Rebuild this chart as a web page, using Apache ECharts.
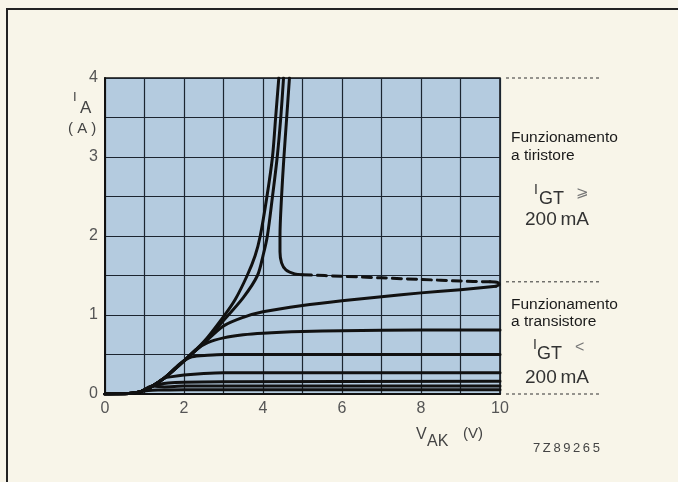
<!DOCTYPE html>
<html><head><meta charset="utf-8">
<script src="https://cdn.jsdelivr.net/npm/echarts@6/dist/echarts.min.js"></script>
<style>html,body{margin:0;padding:0;background:#f8f5e9}#c{width:678px;height:482px}</style>
</head><body><div id="c"></div>
<script>
// ---- data ----
const xTickLabels = [0, 2, 4, 6, 8, 10];
const yTickLabels = [0, 1, 2, 3, 4];
const bundle = [[0,0],[0.6,0.005],[0.9,0.03],[1.2,0.1],[1.5,0.2],[2,0.42]];
const thyristorA = [[2.5,0.66],[3,0.98],[3.3,1.2],[3.6,1.5],[3.8,1.75],[3.93,2],[4.1,2.5],[4.24,3],[4.32,3.5],[4.4,4]];
const thyristorB = [[2.5,0.65],[3,0.93],[3.5,1.22],[3.86,1.5],[4.0,1.75],[4.11,2],[4.24,2.5],[4.36,3],[4.45,3.5],[4.52,4]];
const thyristorC = [[4.67,4],[4.6,3.5],[4.53,3],[4.47,2.5],[4.43,2],[4.43,1.8],[4.47,1.66],[4.58,1.57],[4.8,1.52],[5.0,1.51]];
const snapDashed = [[5.0,1.51],[6,1.49],[7,1.47],[8,1.45],[9,1.43],[9.75,1.42]];
const snapEnd = [[9.75,1.42],[9.95,1.41],[9.98,1.385],[9.9,1.365]];
const plateau136 = [[2.5,0.64],[3,0.86],[3.5,0.97],[4,1.04],[5,1.12],[6,1.18],[7,1.23],[8,1.28],[9,1.32],[9.9,1.365]];
const plateau080 = [[2.3,0.56],[2.6,0.65],[3,0.71],[3.5,0.75],[4,0.77],[5,0.79],[6,0.8],[8,0.81],[10,0.81]];
const plateau050 = [[2.2,0.47],[2.6,0.49],[3,0.5],[6,0.5],[10,0.5]];
const plateau027 = [[1.7,0.22],[2,0.24],[2.5,0.26],[3,0.27],[6,0.27],[10,0.27]];
const plateau015 = [[1.6,0.14],[2,0.15],[3,0.155],[10,0.16]];
const plateau010 = [[1.5,0.09],[2,0.1],[3,0.1],[10,0.1]];
const plateau005 = [[1.4,0.05],[2,0.055],[10,0.055]];

function upTo(x){ return bundle.filter(p => p[0] <= x); }

const chart = echarts.init(document.getElementById('c'));
const FONT = 'Liberation Sans, Arial, sans-serif';
function curve(data, dashed){
  return {type:'line', data:data, showSymbol:false, smooth:0.3, silent:true,
    lineStyle:{color:'#111', width: 3, type: dashed?[9,6]:'solid', cap:'round', join:'round'}};
}
chart.setOption({
  animation:false,
  backgroundColor:'#f8f5e9',
  grid:{left:105, right:178, top:78, bottom:88, show:true, backgroundColor:'#b4cbdf', borderColor:'#111', borderWidth:1.5},
  xAxis:{type:'value', min:0, max:10, interval:1,
    axisLine:{show:true, lineStyle:{color:'#111', width:2}}, axisTick:{show:false},
    splitLine:{show:true, lineStyle:{color:'#1c2530', width:1.2}},
    axisLabel:{margin:7, color:'#555', fontSize:16, fontFamily:FONT,
      formatter:v => xTickLabels.includes(v) ? String(v) : ''}},
  yAxis:{type:'value', min:0, max:4, interval:0.5,
    axisLine:{show:true, lineStyle:{color:'#111', width:2}}, axisTick:{show:false},
    splitLine:{show:true, lineStyle:{color:'#1c2530', width:1.2}},
    axisLabel:{margin:7, color:'#555', fontSize:16, fontFamily:FONT,
      formatter:v => yTickLabels.includes(v) ? String(v) : ''}},
  series:[
    curve(upTo(2).concat(thyristorA)),
    curve(upTo(2).concat(thyristorB)),
    curve(thyristorC),
    curve(snapDashed, true),
    curve(snapEnd),
    curve(upTo(2).concat(plateau136)),
    curve(upTo(2).concat(plateau080)),
    curve(upTo(1.5).concat([[1.8,0.34],[2,0.42]]).concat(plateau050)),
    curve(upTo(1.5).concat(plateau027)),
    curve(upTo(1.2).concat([[1.35,0.12]]).concat(plateau015)),
    curve(upTo(1.2).concat(plateau010)),
    curve(upTo(0.9).concat([[1.1,0.045]]).concat(plateau005))
  ]
});

const px = (x,y) => chart.convertToPixel({gridIndex:0}, [x,y]);
const xr = px(10,0)[0];
function dash(yv){ const y = px(10,yv)[1]; return {type:'line', shape:{x1:xr+6, y1:y, x2:600, y2:y}, style:{stroke:'#333', lineWidth:1, lineDash:[3,3]}}; }
function txt(x,y,t,size,opts){ return {type:'text', x:x, y:y, style:Object.assign({text:t, fill:'#222', font: size+'px '+FONT, textVerticalAlign:'middle'}, opts||{})}; }
const TS = '\u2009';
chart.setOption({graphic:[
  {type:'rect', shape:{x:7,y:9,width:680,height:490}, style:{fill:'none', stroke:'#222', lineWidth:2}},
  dash(4), dash(1.42), dash(0),
  txt(73,97,'I',13,{fill:'#444'}), txt(80,108,'A',17,{fill:'#444'}),
  txt(68,129,'( A )',15,{fill:'#444'}),
  txt(416,435,'V',16,{fill:'#444'}), txt(427,442,'AK',16,{fill:'#444'}), txt(463,434,'(V)',15,{fill:'#444'}),
  txt(533,448,['7','Z','8','9','2','6','5'].join(TS),13,{fill:'#444'}),
  txt(511,138,'Funzionamento',15.5,{fill:'#1a1a1a'}),
  txt(511,156,'a tiristore',15.5,{fill:'#1a1a1a'}),
  txt(534,190,'I',14,{fill:'#333'}), txt(539,199,'GT',18,{fill:'#333'}), txt(576,193,'\u2a7e',15,{fill:'#777'}),
  txt(525,220,'200'+TS+'mA',19,{fill:'#333'}),
  txt(511,305,'Funzionamento',15.5,{fill:'#1a1a1a'}),
  txt(511,322,'a transistore',15.5,{fill:'#1a1a1a'}),
  txt(533,345,'I',14,{fill:'#333'}), txt(537,354,'GT',18,{fill:'#333'}), txt(575,348,'<',16,{fill:'#777'}),
  txt(525,378,'200'+TS+'mA',19,{fill:'#333'})
]});
</script></body></html>
